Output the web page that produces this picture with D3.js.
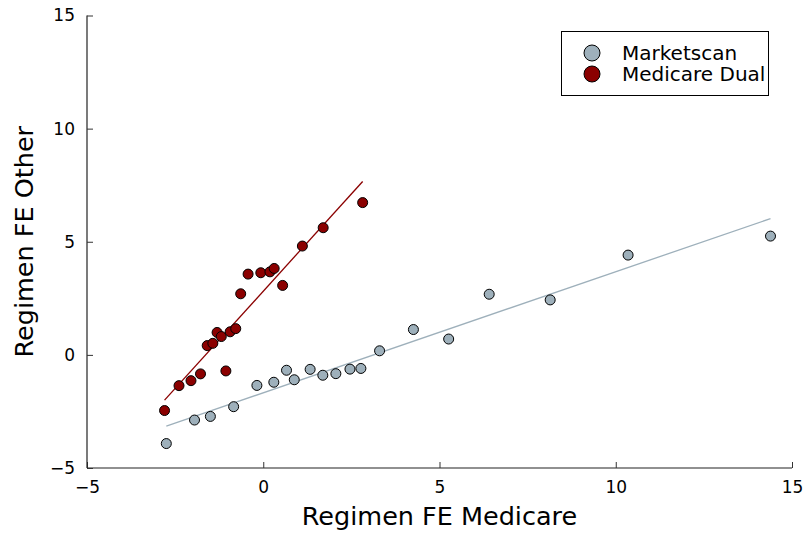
<!DOCTYPE html>
<html>
<head>
<meta charset="utf-8">
<script src="https://cdn.jsdelivr.net/npm/d3@7"></script>
<style>
  html, body { margin: 0; padding: 0; background: #fff; }
  svg { display: block; font-family: "DejaVu Sans", sans-serif; }
</style>
</head>
<body>
<svg id="chart" width="806" height="535"></svg>
<script>
// ---- Data ----
const seriesNames = ["Marketscan", "Medicare Dual"];
const marketscanX = [-2.75, -1.95, -1.50, -0.84, -0.18, 0.30, 0.66, 0.88, 1.33, 1.69, 2.06, 2.46, 2.77, 3.30, 4.26, 5.26, 6.41, 8.14, 10.35, 14.39];
const marketscanY = [-3.92, -2.88, -2.72, -2.29, -1.35, -1.21, -0.68, -1.10, -0.64, -0.90, -0.83, -0.63, -0.60, 0.18, 1.12, 0.70, 2.68, 2.43, 4.41, 5.25];
const dualX = [-2.80, -2.39, -2.05, -1.78, -1.06, -1.59, -1.43, -1.31, -1.19, -0.94, -0.78, -0.64, -0.43, -0.07, 0.19, 0.31, 0.55, 1.11, 1.70, 2.82];
const dualY = [-2.46, -1.36, -1.14, -0.84, -0.71, 0.41, 0.51, 0.99, 0.81, 1.02, 1.16, 2.70, 3.57, 3.63, 3.67, 3.82, 3.07, 4.81, 5.62, 6.73];
const xTicks = [-5, 0, 5, 10, 15];
const yTicks = [-5, 0, 5, 10, 15];
const colors = ["#9eb0bb", "#8b0000"];

// ---- Layout ----
const svg = d3.select("#chart");
const mLeft = 87, mRight = 792, mTop = 15.5, mBottom = 468;
const x = d3.scaleLinear().domain([-5, 15]).range([mLeft, mRight]);
const y = d3.scaleLinear().domain([-5, 15]).range([mBottom, mTop]);
const fmt = d => d < 0 ? "\u2212" + Math.abs(d) : String(d);

// axes
const xAxis = d3.axisBottom(x).tickValues(xTicks).tickSize(-6).tickPadding(13).tickFormat(fmt);
const yAxis = d3.axisLeft(y).tickValues(yTicks).tickSize(-6).tickPadding(12).tickFormat(fmt);

const gx = svg.append("g").attr("transform", `translate(0,${mBottom})`).call(xAxis);
const gy = svg.append("g").attr("transform", `translate(${mLeft},0)`).call(yAxis);
[gx, gy].forEach(g => {
  g.select(".domain").attr("stroke", "#222").attr("stroke-width", 1.2);
  g.selectAll(".tick line").attr("stroke", "#333").attr("stroke-width", 1);
  g.selectAll(".tick text").attr("fill", "#000").style("font-size", "17px").style("font-family", "DejaVu Sans");
});
gx.select(".domain").attr("d", `M${mLeft},0H${mRight}`);
gy.select(".domain").attr("d", `M0,${mBottom}V${mTop}`);

// regression lines
function fit(xs, ys) {
  const mx = d3.mean(xs), my = d3.mean(ys);
  let sxy = 0, sxx = 0;
  xs.forEach((v, i) => { sxy += (v - mx) * (ys[i] - my); sxx += (v - mx) * (v - mx); });
  const b = sxy / sxx, a = my - b * mx;
  const [x0, x1] = d3.extent(xs);
  return [[x0, a + b * x0], [x1, a + b * x1]];
}
const series = [
  { name: seriesNames[0], xs: marketscanX, ys: marketscanY, color: colors[0] },
  { name: seriesNames[1], xs: dualX, ys: dualY, color: colors[1] }
];
const line = d3.line().x(d => x(d[0])).y(d => y(d[1]));
series.forEach(s => {
  svg.append("path").datum(fit(s.xs, s.ys)).attr("d", line)
    .attr("fill", "none").attr("stroke", s.color).attr("stroke-width", 1.3);
});
series.forEach(s => {
  svg.append("g").selectAll("circle").data(s.xs.map((v, i) => [v, s.ys[i]])).join("circle")
    .attr("cx", d => x(d[0])).attr("cy", d => y(d[1])).attr("r", 5)
    .attr("fill", s.color).attr("stroke", "#000").attr("stroke-width", 1);
});

// axis titles
svg.append("text").attr("x", (mLeft + mRight) / 2).attr("y", 525).attr("text-anchor", "middle")
  .style("font-size", "25.5px").text("Regimen FE Medicare");
svg.append("text").attr("transform", `translate(33,${(mTop + mBottom) / 2}) rotate(-90)`).attr("text-anchor", "middle")
  .style("font-size", "25.5px").text("Regimen FE Other");

// legend
const lg = svg.append("g");
lg.append("rect").attr("x", 561.5).attr("y", 31.5).attr("width", 207).attr("height", 64)
  .attr("fill", "#fff").attr("stroke", "#000").attr("stroke-width", 1);
series.forEach((s, i) => {
  const cy = 53 + i * 21;
  lg.append("circle").attr("cx", 592).attr("cy", cy).attr("r", 8)
    .attr("fill", s.color).attr("stroke", "#000").attr("stroke-width", 1);
  lg.append("text").attr("x", 622).attr("y", cy).attr("dy", "0.36em")
    .style("font-size", "20px").text(s.name);
});
</script>
</body>
</html>
